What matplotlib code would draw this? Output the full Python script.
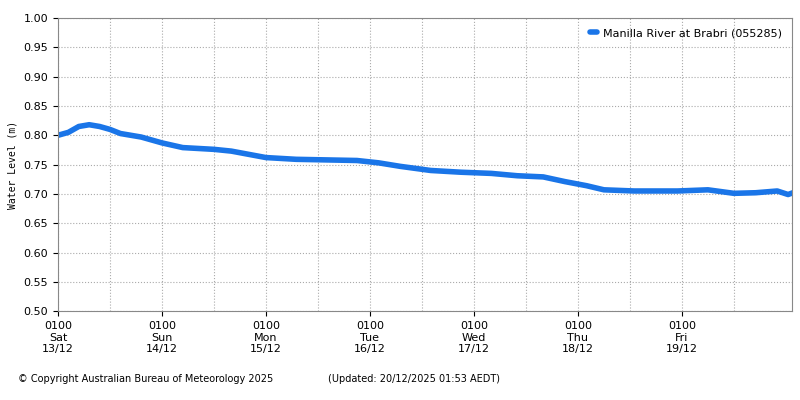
import matplotlib
matplotlib.use("Agg")
from matplotlib import pyplot as plt

# hours since 13/12 01:00 and water level (m)
hours = [0, 2.4, 4.8, 7.2, 9.6, 12, 14.4, 19.2, 24, 28.8, 36, 40, 48, 55, 62, 69, 74,
         79, 86, 93, 100, 106, 112, 117, 122, 126, 133, 143, 150, 156, 161, 166, 173,
         180, 183, 166 + 20, 168.5, 170]
level = [0.800, 0.805, 0.815, 0.818, 0.815, 0.810, 0.803, 0.797, 0.787, 0.779, 0.776,
         0.773, 0.762, 0.759, 0.758, 0.757, 0.753, 0.747, 0.740, 0.737, 0.735, 0.731,
         0.729, 0.721, 0.714, 0.707, 0.705, 0.705, 0.707, 0.701, 0.702, 0.705, 0.699,
         0.703, 0.698, 0.691, 0.688, 0.687]
hours[35] = 186 - 0.5 if False else 185.0
day_names = ["Sat", "Sun", "Mon", "Tue", "Wed", "Thu", "Fri"]
day_dates = ["13/12", "14/12", "15/12", "16/12", "17/12", "18/12", "19/12"]

# keep x values monotonic at the right edge
hours = sorted(hours)

plt.rcParams['font.family'] = ['DejaVu Sans']
fig = plt.figure(figsize=(8, 4), dpi=100)
ax = fig.add_axes([0.0725, 0.222, 0.918, 0.733])
ax.plot(hours, level, color="#1a75e8", lw=4, solid_capstyle="round",
        label="Manilla River at Brabri (055285)")
ax.set_xlim(0, 169.5)
ax.set_ylim(0.5, 1.0)
ax.set_yticks([0.5 + 0.05 * i for i in range(11)])
ax.set_yticklabels(["%.2f" % (0.5 + 0.05 * i) for i in range(11)], fontsize=8)
ax.set_xticks([24 * i for i in range(7)])
ax.set_xticklabels(["0100\n%s\n%s" % (n, d) for n, d in zip(day_names, day_dates)], fontsize=8)
ax.set_xticks([12 + 24 * i for i in range(7)], minor=True)
ax.grid(True, which="both", ls=":", color="#aaaaaa", lw=0.8)
ax.tick_params(which="minor", length=0)
ax.set_ylabel("Water Level (m)", fontsize=7, family="DejaVu Sans Mono")
for s in ax.spines.values():
    s.set_color("#888888")
leg = ax.legend(loc="upper right", fontsize=8, frameon=False, handlelength=0.6,
                handletextpad=0.6, markerscale=1)
leg.legend_handles[0].set_linewidth(4)
fig.text(0.022, 0.045, "© Copyright Australian Bureau of Meteorology 2025", fontsize=7)
fig.text(0.41, 0.045, "(Updated: 20/12/2025 01:53 AEDT)", fontsize=7)
fig.savefig("out.png")
